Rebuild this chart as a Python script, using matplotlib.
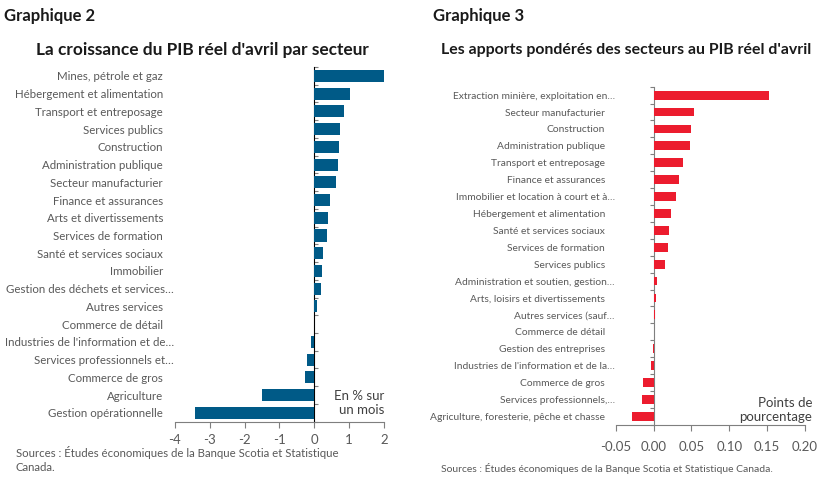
import matplotlib
matplotlib.use("Agg")
import matplotlib.pyplot as plt
import numpy as np
from matplotlib.ticker import NullLocator, FixedLocator

plt.rcParams['font.family'] = ['Lato', 'DejaVu Sans']
plt.rcParams['axes.unicode_minus'] = False

# ---- data: Graphique 2 ----
left_cats = ["Mines, pétrole et gaz", "Hébergement et alimentation", "Transport et entreposage",
             "Services publics", "Construction", "Administration publique", "Secteur manufacturier",
             "Finance et assurances", "Arts et divertissements", "Services de formation",
             "Santé et services sociaux", "Immobilier", "Gestion des déchets et services…",
             "Autres services", "Commerce de détail", "Industries de l'information et de…",
             "Services professionnels et…", "Commerce de gros", "Agriculture",
             "Gestion opérationnelle"]
left_vals = [2.03, 1.02, 0.86, 0.74, 0.71, 0.67, 0.62, 0.44, 0.39, 0.37,
             0.25, 0.23, 0.18, 0.08, 0.0, -0.10, -0.20, -0.26, -1.50, -3.44]
left_ticks = [-4, -3, -2, -1, 0, 1, 2]

# ---- data: Graphique 3 ----
right_cats = ["Extraction minière, exploitation en…", "Secteur manufacturier", "Construction",
              "Administration publique", "Transport et entreposage", "Finance et assurances",
              "Immobilier et location à court et à…", "Hébergement et alimentation",
              "Santé et services sociaux", "Services de formation", "Services publics",
              "Administration et soutien, gestion…", "Arts, loisirs et divertissements",
              "Autres services (sauf…", "Commerce de détail", "Gestion des entreprises",
              "Industries de l'information et de la…", "Commerce de gros",
              "Services professionnels,…", "Agriculture, foresterie, pêche et chasse"]
right_vals = [0.152, 0.053, 0.050, 0.048, 0.039, 0.034, 0.0295, 0.023, 0.020, 0.0195,
              0.015, 0.005, 0.0035, 0.002, 0.0, -0.001, -0.0035, -0.0145, -0.015, -0.028]
right_ticks = [-0.05, 0.00, 0.05, 0.10, 0.15, 0.20]

W, H = 828, 482
fig = plt.figure(figsize=(W / 100, H / 100), dpi=100)
fig.patch.set_facecolor('white')

def px(x, y):
    return x / W, 1 - y / H

GRAY = '#595959'
AX = '#7f7f7f'

def make_panel(rect, cats, vals, ticks, color, height, lab_size, tick_size,
               pad_norm, tick_fmt, tick_pad):
    ax = fig.add_axes(rect)
    n = len(cats)
    y = np.arange(n)
    ax.barh(y, vals, height=height, color=color, zorder=2)
    ax.set_ylim(n - 0.5, -0.5)
    ax.set_xlim(ticks[0], ticks[-1])
    ax.set_yticks(y)
    ax.set_yticklabels(cats, fontsize=lab_size, color=GRAY)
    ax.tick_params(axis='y', length=0)
    for t, c in zip(ax.yaxis.get_major_ticks(), cats):
        t.set_pad(0.6 if c.endswith('…') else pad_norm)
    ax.set_xticks(ticks)
    ax.set_xticklabels([tick_fmt(t) for t in ticks], fontsize=tick_size, color=GRAY)
    ax.tick_params(axis='x', length=4, direction='out', color=AX, width=0.8, pad=tick_pad)
    for s in ['top', 'right', 'left']:
        ax.spines[s].set_visible(False)
    ax.spines['bottom'].set_color(AX)
    ax.spines['bottom'].set_linewidth(0.8)
    # zero axis with category boundary ticks
    frac = (0 - ticks[0]) / (ticks[-1] - ticks[0])
    sec = ax.secondary_yaxis(frac)
    sec.yaxis.set_major_locator(NullLocator())
    sec.yaxis.set_minor_locator(FixedLocator(np.arange(n + 1) - 0.5))
    sec.tick_params(which='minor', length=3, direction='out', color=AX, width=0.8)
    sec.spines['left'].set_color(AX)
    sec.spines['left'].set_linewidth(0.8)
    return ax

x0, y0 = px(175, 421.7)
x1, y1 = px(384, 67)
axL = make_panel([x0, y0, x1 - x0, y1 - y0], left_cats, left_vals, left_ticks,
                 '#005A87', 0.68, 8.25, 9.5, 8.6, lambda t: f"{t:d}", 5)
x0, y0 = px(615.7, 424.7)
x1, y1 = px(805, 86.7)
axR = make_panel([x0, y0, x1 - x0, y1 - y0], right_cats, right_vals, right_ticks,
                 '#EC1C2E', 0.52, 7.35, 9.5, 7.7, lambda t: f"{t:.2f}", 8)

# headings
fig.text(*px(4, 15.5), "Graphique 2", fontsize=12, fontweight='bold', va='center', ha='left', color='#1a1a1a')
fig.text(*px(433, 15.5), "Graphique 3", fontsize=12, fontweight='bold', va='center', ha='left', color='#1a1a1a')
fig.text(*px(202.5, 50), "La croissance du PIB réel d'avril par secteur", fontsize=12.4,
         fontweight='bold', va='center', ha='center', color='#1a1a1a')
fig.text(*px(626.5, 50), "Les apports pondérés des secteurs au PIB réel d'avril", fontsize=11.4,
         fontweight='bold', va='center', ha='center', color='#1a1a1a')

# unit notes
fig.text(*px(384, 402.5), "En % sur\nun mois", fontsize=9.5, ha='right', va='center',
         color='#404040', linespacing=1.2, multialignment='right')
fig.text(*px(812.5, 410), "Points de\npourcentage", fontsize=9.5, ha='right', va='center',
         color='#404040', linespacing=1.2, multialignment='right')

# sources
fig.text(*px(16, 459.5), "Sources : Études économiques de la Banque Scotia et Statistique\nCanada.",
         fontsize=8.2, ha='left', va='center', color=GRAY, linespacing=1.25)
fig.text(*px(441, 468), "Sources : Études économiques de la Banque Scotia et Statistique Canada.",
         fontsize=7.45, ha='left', va='center', color=GRAY)

fig.savefig("out.png", dpi=100, facecolor='white')
